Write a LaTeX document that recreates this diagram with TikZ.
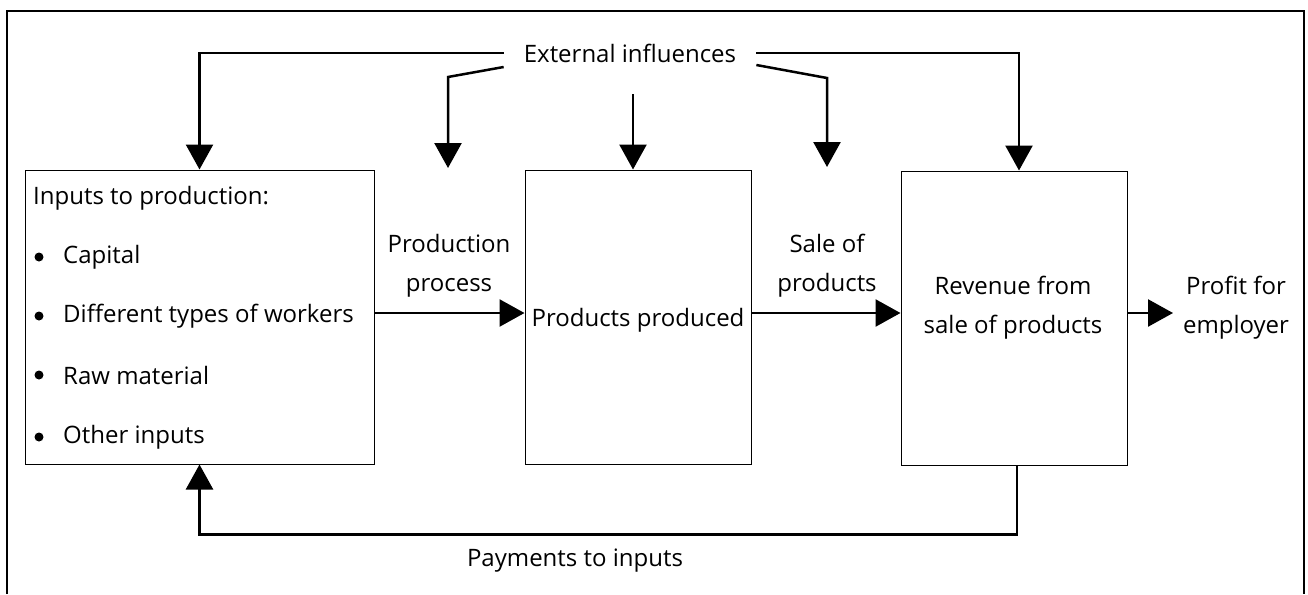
\documentclass[tikz,border=0pt]{standalone}
\usepackage{fontspec}
\setmainfont{Open Sans}
\usetikzlibrary{arrows.meta}
\tikzset{
  box/.style={draw, line width=1pt, inner sep=0pt, minimum height=294pt},
  flow/.style={line width=2.5pt, -{Triangle[length=25pt,width=27pt]}},
  txt/.style={font=\fontsize{24}{39}\selectfont, inner sep=0pt, align=center},
  dot/.style={circle, fill=black, inner sep=0pt, minimum size=9pt},
}
\begin{document}
\begin{tikzpicture}[x=1pt,y=-1pt]
	\useasboundingbox (0,0) rectangle (1308,594);

	% 外框
	\draw[line width=2pt] (7,594) -- (7,11) -- (1304,11) -- (1304,594);

	% 三个方框
	\node[box, minimum width=349pt] (inp) at (199.5,317) {};
	\node[box, minimum width=226pt] (prod) at (638,317) {};
	\node[box, minimum width=226pt] (rev) at (1014,318) {};

	% 方框中的文字
	\node[txt, anchor=west] (inptitle) at (33,198) {Inputs to production:};
	\foreach \y/\t [count=\i] in {257/Capital, 316/Different types of workers, 375/Raw material, 437/Other inputs} {
		\node[dot] (dot\i) at (39,\y) {};
		\node[txt, anchor=west] (item\i) at (63,\y) {\t};
	}
	\node[txt] (prodtxt) at (638,320) {Products produced};
	\node[txt] (revtxt) at (1013,308) {Revenue from\\sale of products};

	% 外部影响
	\node[txt, inner xsep=20pt] (ext) at (630,53) {External influences};
	\coordinate (k1) at (448,77);
	\coordinate (d1) at (448,168);
	\coordinate (e3) at (633,94);
	\coordinate (k2) at (827,78);
	\coordinate (d2) at (827,167);
	\draw[flow] (ext.west) -| (inp.north);
	\draw[flow] ([yshift=-14pt]ext.west) -- (k1) -- (d1);
	\draw[flow] (e3) -- (e3 |- prod.north);
	\draw[flow] ([yshift=-12pt]ext.east) -- (k2) -- (d2);
	\draw[flow] (ext.east) -| ([xshift=5pt]rev.north);

	% 横向箭头
	\node[txt] (proc) at (449,266) {Production\\process};
	\node[txt] (sale) at (827,266) {Sale of\\products};
	\node[txt] (profit) at (1236,308) {Profit for\\employer};
	\coordinate (pend) at (1173,313);
	\draw[flow] (inp.east |- 0,313) -- (prod.west |- 0,313);
	\draw[flow] (prod.east |- 0,313) -- (rev.west |- 0,313);
	\draw[flow] (rev.east |- pend) -- (pend);

	% 回流
	\draw[flow] ([xshift=3pt]rev.south) -- ++(0,69) -| (inp.south);
	\node[txt] (pay) at (575,561) {Payments to inputs};
\end{tikzpicture}
\end{document}
